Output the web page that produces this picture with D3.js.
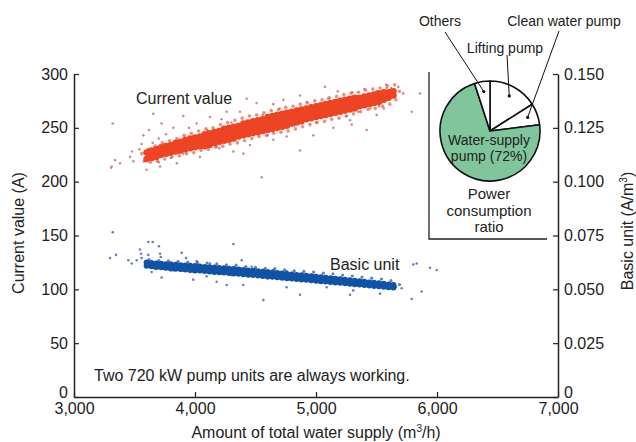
<!DOCTYPE html>
<html>
<head>
<meta charset="utf-8">
<script src="https://cdn.jsdelivr.net/npm/d3@7"></script>
<style>
  body { margin: 0; background: #fff; }
  svg { display: block; font-family: "Liberation Sans", Arial, sans-serif; }
</style>
</head>
<body>
<svg id="chart" width="636" height="442"></svg>
<script>
// ---- data ----
var xTicks = [3000, 4000, 5000, 6000, 7000];
var leftTicks = [0, 50, 100, 150, 200, 250, 300];
var rightTicks = [0, 0.025, 0.05, 0.075, 0.1, 0.125, 0.15];

// current value (A), dense band
var currentCore = [
  [3600,227],[3600,221],[3620,224],[3640,229],[3640,222],[3680,230],[3680,223],[3680,226],[3720,232],[3720,225],
  [3760,233],[3760,226],[3760,229],[3800,234],[3800,227],[3800,231],[3840,236],[3840,228],[3840,231],[3880,237],
  [3880,229],[3880,233],[3920,239],[3920,230],[3920,234],[3960,240],[3960,231],[3960,235],[4000,241],[4000,232],
  [4000,236],[4040,242],[4040,233],[4040,237],[4080,244],[4080,233],[4080,238],[4120,245],[4120,234],[4120,240],
  [4160,246],[4160,236],[4160,241],[4200,247],[4200,237],[4200,242],[4240,249],[4240,238],[4240,243],[4280,250],
  [4280,239],[4280,245],[4320,251],[4320,240],[4320,246],[4360,252],[4360,242],[4360,247],[4400,254],[4400,243],
  [4400,248],[4440,255],[4440,244],[4440,249],[4480,256],[4480,245],[4480,250],[4520,257],[4520,246],[4520,252],
  [4560,258],[4560,247],[4560,253],[4600,260],[4600,248],[4600,254],[4640,261],[4640,249],[4640,255],[4680,262],
  [4680,250],[4680,256],[4720,263],[4720,251],[4720,257],[4760,264],[4760,252],[4760,258],[4800,265],[4800,254],
  [4800,260],[4840,266],[4840,255],[4840,261],[4880,267],[4880,256],[4880,262],[4920,268],[4920,258],[4920,263],
  [4960,269],[4960,259],[4960,264],[5000,270],[5000,260],[5000,265],[5040,271],[5040,261],[5040,266],[5080,272],
  [5080,262],[5080,267],[5120,273],[5120,263],[5120,268],[5160,274],[5160,264],[5160,269],[5200,275],[5200,265],
  [5200,270],[5240,276],[5240,266],[5240,271],[5280,277],[5280,267],[5280,272],[5320,278],[5320,268],[5320,273],
  [5360,278],[5360,270],[5360,274],[5400,279],[5400,271],[5400,275],[5440,280],[5440,272],[5440,276],[5480,281],
  [5480,273],[5480,277],[5520,282],[5520,274],[5560,283],[5560,276],[5600,283],[5600,278],[5640,284],[5640,280],
  [3620,227],[3660,223],[3660,228],[3700,225],[3700,230],[3740,227],[3740,231],[3780,227],[3780,232],[3820,229],
  [3820,233],[3860,229],[3860,234],[3900,231],[3900,236],[3940,232],[3940,237],[3980,233],[3980,238],[4020,234],
  [4020,239],[4060,235],[4060,240],[4100,236],[4100,242],[4140,237],[4140,243],[4180,239],[4180,244],[4220,240],
  [4220,245],[4260,241],[4260,247],[4300,242],[4300,248],[4340,244],[4340,249],[4380,245],[4380,250],[4420,246],
  [4420,251],[4460,247],[4460,253],[4500,248],[4500,254],[4540,249],[4540,255],[4580,251],[4580,256],[4620,252],
  [4620,257],[4660,253],[4660,258],[4700,254],[4700,259],[4740,255],[4740,260],[4780,256],[4780,262],[4820,257],
  [4820,263],[4860,258],[4860,264],[4900,260],[4900,265],[4940,261],[4940,266],[4980,262],[4980,267],[5020,263],
  [5020,268],[5060,264],[5060,269],[5100,265],[5100,270],[5140,266],[5140,271],[5180,267],[5180,272],[5220,268],
  [5220,273],[5260,269],[5260,274],[5300,270],[5300,275],[5340,271],[5340,276],[5380,272],[5380,277],[5420,273],
  [5420,278],[5460,274],[5460,279],[5500,275],[5500,279],[5540,276],[5540,280],[5580,278],[5580,281],[5620,280],
  [5620,283]
];
// current value (A), fringe of the band
var currentFringe = [
  [3560,226],[3580,219],[3610,230],[3630,218],[3670,233],[3690,219],[3730,236],[3750,221],[3790,238],[3810,223],
  [3850,240],[3870,224],[3910,243],[3930,226],[3970,245],[3990,227],[4030,247],[4050,229],[4090,249],[4110,230],
  [4150,250],[4170,232],[4210,253],[4230,233],[4270,255],[4290,235],[4330,257],[4350,236],[4390,259],[4410,238],
  [4450,261],[4470,240],[4510,262],[4530,242],[4570,264],[4590,243],[4630,266],[4650,245],[4690,267],[4710,246],
  [4750,269],[4770,247],[4810,270],[4830,249],[4870,272],[4890,251],[4930,273],[4950,253],[4990,275],[5010,255],
  [5050,276],[5070,256],[5110,278],[5130,258],[5170,279],[5190,259],[5230,281],[5250,261],[5290,282],[5310,263],
  [5350,283],[5370,265],[5410,285],[5430,267],[5470,286],[5490,268],[5530,287],[5550,270],[5590,289],[5610,272],
  [5650,290],[5660,276],[5690,284]
];
// current value (A), scattered points
var currentSparse = [
  [3311,214],[3339,220],[3655,263],[3573,243],[3559,235],[3724,254],[3903,261],[3711,214],[3600,211],[4551,204],
  [4868,229],[5074,288],[5143,263],[5281,257],[5295,253],[5502,262],[5584,287],[5680,288],[5791,265],[5419,248],
  [4372,265],[4427,277],[4647,272],[4868,280],[4923,274],[3903,226],[4041,223],[4179,233],[4317,228],[4455,234],
  [4647,239],[4757,242],[4978,243],[5143,250],[5253,261],[3766,233],[3821,250],[4014,254],[4124,260],[4262,265],
  [4509,273],[4730,276],[3463,223],[3490,219],[3380,217],[3320,254],[3306,213],[5860,282],[5520,270],[5560,268],
  [5580,290],[5620,287],[3700,218],[3800,222],[4200,231],[4600,243],[5000,255],[5350,265],[5450,268],[3650,236],
  [3700,240],[4100,248],[4300,255],[4700,268],[5100,277],[5300,283],[5500,284],[3540,230],[3620,248],[3760,244],
  [3950,250],[4220,258],[4400,226],[4560,262],[4820,252],[5180,284],[5400,286],[5720,282],[3480,228],[3850,217]
];

// basic unit (A/m3), dense band
var basicCore = [
  [3600,.0625],[3600,.0610],[3640,.0622],[3640,.0607],[3640,.0615],[3680,.0620],[3680,.0604],[3680,.0612],
  [3720,.0619],[3720,.0602],[3720,.0610],[3760,.0617],[3760,.0600],[3760,.0608],[3800,.0616],[3800,.0597],
  [3800,.0606],[3840,.0614],[3840,.0596],[3840,.0605],[3880,.0612],[3880,.0594],[3880,.0603],[3920,.0611],
  [3920,.0592],[3920,.0601],[3960,.0609],[3960,.0590],[3960,.0599],[4000,.0608],[4000,.0588],[4000,.0597],
  [4040,.0606],[4040,.0587],[4040,.0596],[4080,.0604],[4080,.0585],[4080,.0594],[4120,.0603],[4120,.0583],
  [4120,.0592],[4160,.0601],[4160,.0581],[4160,.0590],[4200,.0599],[4200,.0579],[4200,.0588],[4240,.0598],
  [4240,.0578],[4240,.0587],[4280,.0596],[4280,.0576],[4280,.0585],[4320,.0594],[4320,.0574],[4320,.0583],
  [4360,.0592],[4360,.0572],[4360,.0581],[4400,.0590],[4400,.0570],[4400,.0579],[4440,.0588],[4440,.0568],
  [4440,.0577],[4480,.0586],[4480,.0566],[4480,.0575],[4520,.0584],[4520,.0564],[4520,.0573],[4560,.0582],
  [4560,.0562],[4560,.0571],[4600,.0580],[4600,.0560],[4600,.0569],[4640,.0578],[4640,.0558],[4640,.0567],
  [4680,.0576],[4680,.0556],[4680,.0565],[4720,.0573],[4720,.0554],[4720,.0563],[4760,.0571],[4760,.0552],
  [4760,.0561],[4800,.0569],[4800,.0550],[4800,.0559],[4840,.0567],[4840,.0548],[4840,.0557],[4880,.0565],
  [4880,.0546],[4880,.0555],[4920,.0563],[4920,.0544],[4920,.0553],[4960,.0561],[4960,.0542],[4960,.0551],
  [5000,.0558],[5000,.0540],[5000,.0549],[5040,.0556],[5040,.0538],[5040,.0547],[5080,.0554],[5080,.0536],
  [5080,.0545],[5120,.0552],[5120,.0534],[5120,.0543],[5160,.0549],[5160,.0532],[5160,.0540],[5200,.0547],
  [5200,.0530],[5200,.0538],[5240,.0545],[5240,.0528],[5240,.0536],[5280,.0542],[5280,.0526],[5280,.0534],
  [5320,.0540],[5320,.0524],[5320,.0532],[5360,.0537],[5360,.0522],[5360,.0530],[5400,.0535],[5400,.0520],
  [5400,.0527],[5440,.0532],[5440,.0518],[5440,.0525],[5480,.0530],[5480,.0516],[5520,.0528],[5520,.0514],
  [5560,.0526],[5560,.0512],[5600,.0523],[5600,.0510],[5640,.0520],[5640,.0508]
];
// basic unit (A/m3), fringe of the band
var basicFringe = [
  [3620,.0638],[3660,.0600],[3700,.0634],[3740,.0596],[3780,.0632],[3820,.0590],[3860,.0630],[3900,.0588],
  [3940,.0627],[3980,.0584],[4020,.0624],[4060,.0582],[4100,.0622],[4140,.0578],[4180,.0618],[4220,.0575],
  [4260,.0614],[4300,.0572],[4340,.0612],[4380,.0569],[4420,.0606],[4460,.0566],[4500,.0602],[4540,.0561],
  [4580,.0598],[4620,.0558],[4660,.0596],[4700,.0553],[4740,.0590],[4780,.0551],[4820,.0586],[4860,.0547],
  [4900,.0583],[4940,.0544],[4980,.0580],[5020,.0540],[5060,.0575],[5100,.0537],[5140,.0572],[5180,.0532],
  [5220,.0566],[5260,.0529],[5300,.0562],[5340,.0524],[5380,.0557],[5420,.0520],[5460,.0552],[5500,.0516],
  [5540,.0548],[5580,.0512],[5620,.0540],[5660,.0512],[5690,.0522]
];
// basic unit (A/m3), scattered points
var basicSparse = [
  [3320,.0765],[3298,.0645],[3347,.0660],[3449,.0635],[3477,.0620],[3518,.0635],[3559,.0645],[3545,.0685],
  [3554,.0665],[3614,.0720],[3650,.0720],[3614,.0660],[3702,.0700],[3711,.0665],[3717,.0650],[3642,.0580],
  [3724,.0555],[3890,.0670],[3926,.0645],[4317,.0710],[4386,.0635],[4014,.0630],[4124,.0620],[3986,.0545],
  [4262,.0520],[4399,.0520],[4565,.0450],[4868,.0475],[5281,.0475],[5708,.0505],[5791,.0455],[5873,.0490],
  [5804,.0615],[5832,.0620],[5942,.0600],[5997,.0590],[4468,.0605],[4647,.0590],[4757,.0585],[4978,.0565],
  [5143,.0555],[4096,.0560],[4179,.0535],[4757,.0510],[5088,.0510],[5308,.0495],[5529,.0480],[4200,.0607],
  [4500,.0592],[4800,.0576],[5200,.0552],[5450,.0537],[4300,.0566],[4600,.0552],[3850,.0620],[3950,.0615]
];

// power consumption ratio (%)
var pieNames = ["Lifting pump", "Clean water pump", "Water-supply pump", "Others"];
var pieValues = [16, 7, 72, 5];

// ---- chart ----
var svg = d3.select("#chart");
var ink = "#222";

var x = d3.scaleLinear().domain([3000, 7000]).range([74, 558]);
var yLeft = d3.scaleLinear().domain([0, 300]).range([397, 74]);
var yRight = d3.scaleLinear().domain([0, 0.15]).range([397, 74]);

function dots(data, y, r, fill) {
  svg.append("g").selectAll("circle")
    .data(data).enter().append("circle")
    .attr("cx", function(d) { return x(d[0]); })
    .attr("cy", function(d) { return y(d[1]); })
    .attr("r", r)
    .style("fill", fill);
}

// faint points first, then fringe, then the dense bands
dots(currentSparse, yLeft, 1.3, "rgb(205,140,150)");
dots(basicSparse, yRight, 1.3, "rgb(110,125,185)");
dots(currentFringe, yLeft, 1.8, "rgba(236,80,50,0.65)");
dots(basicFringe, yRight, 1.6, "rgba(20,80,165,0.7)");
dots(currentCore, yLeft, 3.3, "#ec4424");
dots(basicCore, yRight, 3, "#1252a5");

// axes
function styleAxis(g) {
  g.select(".domain").style("stroke", ink).style("stroke-width", "1.5px");
  g.selectAll(".tick line").style("stroke", ink).style("stroke-width", "1.2px");
  g.selectAll(".tick text").style("fill", ink).style("font-size", "16px")
    .style("font-family", "'Liberation Sans', Arial, sans-serif");
}

var xAxis = svg.append("g")
  .attr("transform", "translate(0,397)")
  .call(d3.axisBottom(x).tickValues(xTicks).tickSizeInner(-5).tickSizeOuter(0)
    .tickPadding(6).tickFormat(d3.format(",")));
styleAxis(xAxis);

var leftAxis = svg.append("g")
  .attr("transform", "translate(74,0)")
  .call(d3.axisLeft(yLeft).tickValues(leftTicks).tickSizeInner(-5).tickSizeOuter(0).tickPadding(6));
styleAxis(leftAxis);
leftAxis.selectAll(".tick text").filter(function(d) { return d === 0; }).attr("y", -5);

var rightAxis = svg.append("g")
  .attr("transform", "translate(558,0)")
  .call(d3.axisRight(yRight).tickValues(rightTicks).tickSizeInner(-5).tickSizeOuter(0).tickPadding(6)
    .tickFormat(function(d) { return d === 0 ? "0" : d3.format(".3f")(d); }));
styleAxis(rightAxis);
rightAxis.selectAll(".tick text").filter(function(d) { return d === 0; }).attr("y", -5);

// axis titles
svg.append("text")
  .attr("transform", "translate(24,233) rotate(-90)")
  .attr("text-anchor", "middle")
  .style("font-size", "16px").style("fill", ink)
  .text("Current value (A)");

var rt = svg.append("text")
  .attr("transform", "translate(633,231) rotate(-90)")
  .attr("text-anchor", "middle")
  .style("font-size", "16px").style("fill", ink);
rt.append("tspan").text("Basic unit (A/m");
rt.append("tspan").attr("dy", -6).style("font-size", "10px").text("3");
rt.append("tspan").attr("dy", 6).text(")");

var xt = svg.append("text")
  .attr("x", 316).attr("y", 438)
  .attr("text-anchor", "middle")
  .style("font-size", "16px").style("fill", ink);
xt.append("tspan").text("Amount of total water supply (m");
xt.append("tspan").attr("dy", -6).style("font-size", "10px").text("3");
xt.append("tspan").attr("dy", 6).text("/h)");

// series labels and note
svg.append("text").attr("x", 136).attr("y", 104)
  .style("font-size", "16px").style("fill", ink).text("Current value");
svg.append("text").attr("x", 330).attr("y", 270)
  .style("font-size", "16px").style("fill", ink).text("Basic unit");
svg.append("text").attr("x", 94).attr("y", 381)
  .style("font-size", "16px").style("fill", ink).text("Two 720 kW pump units are always working.");

// ---- inset: power consumption ratio ----
var inset = svg.append("g");
inset.append("path")
  .attr("d", "M429,72V239H547")
  .style("fill", "none").style("stroke", ink).style("stroke-width", "1.3px");

var cx = 490, cy = 131, r = 50;
var pie = d3.pie().sort(null).value(function(d) { return d; });
var arc = d3.arc().innerRadius(0).outerRadius(r);
var dotArc = d3.arc().innerRadius(40).outerRadius(40);
var slices = pie(pieValues);

var pg = inset.append("g").attr("transform", "translate(" + cx + "," + cy + ")");
pg.selectAll("path")
  .data(slices).enter().append("path")
  .attr("d", arc)
  .style("fill", function(d, i) { return i === 2 ? "#80c59b" : "#fff"; })
  .style("stroke", "#111")
  .style("stroke-width", "1.6px")
  .style("stroke-linejoin", "round");

// leader lines: label anchor for Lifting, Clean, Others
var leaderEnds = [[507, 55], [559, 31], null, [445, 32]];
slices.forEach(function(s, i) {
  if (!leaderEnds[i]) return;
  var c = dotArc.centroid(s);
  inset.append("line")
    .attr("x1", leaderEnds[i][0]).attr("y1", leaderEnds[i][1])
    .attr("x2", cx + c[0]).attr("y2", cy + c[1])
    .style("stroke", "#111").style("stroke-width", "1px");
  inset.append("circle")
    .attr("cx", cx + c[0]).attr("cy", cy + c[1]).attr("r", 1.6)
    .style("fill", "#111");
});

function insetText(t, px, py, size) {
  inset.append("text").attr("x", px).attr("y", py)
    .attr("text-anchor", "middle").attr("dy", "0.35em")
    .style("font-size", size + "px").style("fill", ink).text(t);
}
insetText(pieNames[3], 440, 21, 14);
insetText(pieNames[1], 564, 21, 14);
insetText(pieNames[0], 505, 48, 14);
insetText("Water-supply", 489, 140, 14);
insetText("pump (" + pieValues[2] + "%)", 489, 156, 14);
insetText("Power", 489, 194, 15);
insetText("consumption", 489, 211, 15);
insetText("ratio", 489, 227, 15);
</script>
</body>
</html>
